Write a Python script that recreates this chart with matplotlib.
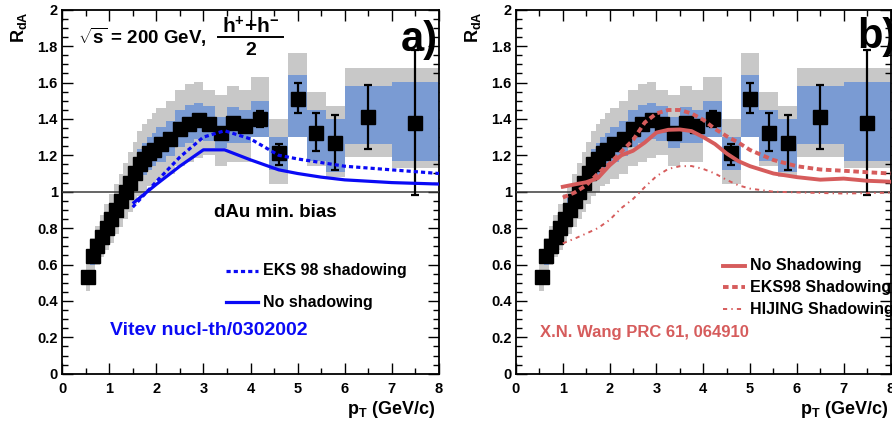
import numpy as np
import matplotlib
matplotlib.use("Agg")
import matplotlib.pyplot as plt
from matplotlib.patches import Rectangle
from matplotlib.ticker import FuncFormatter

plt.rcParams["font.family"] = ["Liberation Sans", "DejaVu Sans"]
plt.rcParams["font.weight"] = "bold"
plt.rcParams["mathtext.fontset"] = "custom"
plt.rcParams["mathtext.rm"] = "Liberation Sans:bold"
plt.rcParams["mathtext.it"] = "Liberation Sans:bold"
plt.rcParams["mathtext.bf"] = "Liberation Sans:bold"
plt.rcParams["mathtext.sf"] = "Liberation Sans:bold"
plt.rcParams["lines.scale_dashes"] = False

# ---- measured R_dA, d+Au minimum bias, (h+ + h-)/2 ----
pt = [0.55, 0.65, 0.75, 0.85, 0.95, 1.05, 1.15, 1.25, 1.35, 1.45,
      1.55, 1.65, 1.75, 1.85, 1.95, 2.1, 2.3, 2.5, 2.7, 2.9,
      3.125, 3.375, 3.625, 3.875, 4.2, 4.6, 5.0, 5.4, 5.8, 6.5, 7.5]
bin_lo = [0.5, 0.6, 0.7, 0.8, 0.9, 1.0, 1.1, 1.2, 1.3, 1.4,
          1.5, 1.6, 1.7, 1.8, 1.9, 2.0, 2.2, 2.4, 2.6, 2.8,
          3.0, 3.25, 3.5, 3.75, 4.0, 4.4, 4.8, 5.2, 5.6, 6.0, 7.0]
bin_hi = [0.6, 0.7, 0.8, 0.9, 1.0, 1.1, 1.2, 1.3, 1.4, 1.5,
          1.6, 1.7, 1.8, 1.9, 2.0, 2.2, 2.4, 2.6, 2.8, 3.0,
          3.25, 3.5, 3.75, 4.0, 4.4, 4.8, 5.2, 5.6, 6.0, 7.0, 8.0]
rda = [0.53, 0.645, 0.70, 0.75, 0.80, 0.85, 0.90, 0.95, 1.00, 1.05,
       1.10, 1.15, 1.18, 1.21, 1.23, 1.26, 1.29, 1.345, 1.37, 1.395,
       1.37, 1.32, 1.375, 1.36, 1.40, 1.21, 1.51, 1.325, 1.27, 1.41, 1.38]
stat_dn = [0.01, 0.01, 0.01, 0.01, 0.01, 0.01, 0.01, 0.01, 0.01, 0.01,
           0.01, 0.01, 0.01, 0.01, 0.01, 0.01, 0.01, 0.01, 0.01, 0.01,
           0.015, 0.015, 0.02, 0.02, 0.045, 0.063, 0.08, 0.10, 0.15, 0.175, 0.40]
stat_up = [0.01, 0.01, 0.01, 0.01, 0.01, 0.01, 0.01, 0.01, 0.01, 0.01,
           0.01, 0.01, 0.01, 0.01, 0.01, 0.01, 0.01, 0.01, 0.01, 0.01,
           0.015, 0.015, 0.02, 0.02, 0.045, 0.05, 0.086, 0.11, 0.15, 0.175, 0.40]
# point-to-point systematic band (blue) and total systematic band (gray)
blue_lo = [0.49, 0.60, 0.65, 0.695, 0.74, 0.785, 0.835, 0.88, 0.925, 0.97,
           1.02, 1.065, 1.09, 1.12, 1.14, 1.165, 1.195, 1.245, 1.27, 1.29,
           1.28, 1.24, 1.27, 1.265, 1.30, 1.12, 1.30, 1.17, 1.11, 1.26, 1.17]
blue_hi = [0.57, 0.69, 0.75, 0.805, 0.86, 0.915, 0.97, 1.02, 1.075, 1.13,
           1.18, 1.235, 1.27, 1.30, 1.32, 1.355, 1.39, 1.45, 1.475, 1.49,
           1.47, 1.41, 1.465, 1.45, 1.50, 1.30, 1.64, 1.45, 1.40, 1.58, 1.60]
gray_lo = [0.455, 0.55, 0.595, 0.64, 0.68, 0.72, 0.765, 0.805, 0.85, 0.89,
           0.935, 0.975, 1.00, 1.03, 1.045, 1.07, 1.10, 1.14, 1.165, 1.185,
           1.20, 1.14, 1.165, 1.165, 1.30, 1.04, 1.30, 1.14, 1.08, 1.19, 1.13]
gray_hi = [0.615, 0.745, 0.81, 0.87, 0.93, 0.985, 1.045, 1.10, 1.16, 1.22,
           1.275, 1.335, 1.37, 1.40, 1.43, 1.46, 1.50, 1.56, 1.59, 1.60,
           1.56, 1.53, 1.58, 1.56, 1.63, 1.40, 1.76, 1.55, 1.47, 1.68, 1.68]

# ---- Vitev nucl-th/0302002 ----
vit_pt = [1.5, 2.0, 2.5, 3.0, 3.45, 4.0, 4.6, 5.0, 5.5, 6.0, 7.0, 8.0]
vit_noshad = [0.935, 1.04, 1.14, 1.23, 1.23, 1.175, 1.12, 1.10, 1.08, 1.065, 1.05, 1.042]
vit_eks = [0.915, 1.055, 1.19, 1.30, 1.335, 1.29, 1.20, 1.18, 1.16, 1.14, 1.12, 1.10]

# ---- X.N. Wang PRC 61, 064910 ----
wang_pt = [1.0, 1.25, 1.5, 1.75, 2.0, 2.25, 2.5, 2.75, 3.0, 3.25, 3.5, 3.75,
           4.0, 4.25, 4.5, 4.75, 5.0, 5.5, 6.0, 6.5, 7.0, 7.5, 8.0]
wang_noshad = [1.027, 1.04, 1.052, 1.075, 1.145, 1.20, 1.225, 1.27, 1.325, 1.34, 1.342, 1.333,
               1.30, 1.262, 1.21, 1.168, 1.14, 1.10, 1.08, 1.066, 1.072, 1.06, 1.055]
wang_eks = [0.968, 0.995, 1.035, 1.10, 1.155, 1.22, 1.284, 1.38, 1.43, 1.449, 1.449, 1.43,
            1.395, 1.345, 1.305, 1.27, 1.229, 1.174, 1.14, 1.122, 1.115, 1.107, 1.10]
wang_hijing = [0.716, 0.742, 0.77, 0.80, 0.845, 0.91, 0.96, 1.025, 1.085, 1.125, 1.14, 1.141,
               1.125, 1.10, 1.065, 1.035, 1.017, 1.0, 0.996, 0.993, 0.99, 0.992, 0.995]

GRAY = "#c8c8c8"
BLUEBOX = "#7a9bd3"
BLUE = "#0a0af5"
RED = "#d65c5c"

W, H = 892, 421
fig = plt.figure(figsize=(W / 100, H / 100), dpi=100)


def axes_px(x0, x1, y0, y1):
    return fig.add_axes([x0 / W, 1 - y1 / H, (x1 - x0) / W, (y1 - y0) / H])


axL = axes_px(62, 439, 9.7, 373.7)
axR = axes_px(516, 890.5, 9.7, 373.7)

fmt = FuncFormatter(lambda v, p: "%g" % round(v, 2))

for ax in (axL, axR):
    ax.set_xlim(0, 8)
    ax.set_ylim(0, 2)
    ax.set_xticks(np.arange(0, 9, 1))
    ax.set_xticks(np.arange(0, 8.01, 0.5), minor=True)
    ax.set_yticks(np.arange(0, 2.01, 0.2))
    ax.set_yticks(np.arange(0, 2.001, 0.05), minor=True)
    ax.xaxis.set_major_formatter(fmt)
    ax.yaxis.set_major_formatter(fmt)
    ax.tick_params(which="both", direction="in", top=True, right=True,
                   labelsize=10.5, width=1.0, color="k")
    ax.tick_params(which="major", length=8)
    ax.tick_params(which="minor", length=4)
    ax.tick_params(axis="y", pad=3)
    ax.tick_params(axis="x", pad=6)
    for s in ax.spines.values():
        s.set_linewidth(1.3)

    for i in range(len(pt)):
        ax.add_patch(Rectangle((bin_lo[i], gray_lo[i]), bin_hi[i] - bin_lo[i],
                               gray_hi[i] - gray_lo[i], fc=GRAY, ec="none", zorder=1))
    for i in range(len(pt)):
        ax.add_patch(Rectangle((bin_lo[i], blue_lo[i]), bin_hi[i] - bin_lo[i],
                               blue_hi[i] - blue_lo[i], fc=BLUEBOX, ec="none", zorder=2))
    ax.axhline(1.0, color="#3c3c3c", lw=1.1, zorder=3)
    ax.errorbar(pt, rda, yerr=[stat_dn, stat_up], fmt="s", ms=9.5, mfc="k", mec="k",
                ecolor="k", elinewidth=1.6, capsize=3, capthick=1.6, zorder=5)

# ---- panel a) ----
axL.plot(vit_pt, vit_noshad, color=BLUE, lw=2.3, zorder=6, solid_capstyle="butt")
axL.plot(vit_pt, vit_eks, color=BLUE, lw=2.3, ls=(0, (3.0, 2.2)), zorder=6)

axL.text(0.34, 1.846, r"$\sqrt{\mathrm{s}}$ = 200 GeV,", fontsize=13.5, va="center", ha="left")
axL.text(4.0, 1.905, r"$\mathrm{h}^{+}$+$\mathrm{h}^{-}$", fontsize=15, va="center", ha="center")
axL.plot([3.3, 4.7], [1.85, 1.85], color="k", lw=1.4)
axL.text(4.0, 1.775, "2", fontsize=14, va="center", ha="center")
axL.text(7.98, 1.835, "a)", fontsize=30, va="center", ha="right")
axL.text(4.52, 0.887, "dAu min. bias", fontsize=13.5, va="center", ha="center")

axL.plot([3.47, 4.15], [0.566, 0.566], color=BLUE, lw=2.3, ls=(0, (3.0, 2.2)))
axL.text(4.26, 0.566, "EKS 98 shadowing", fontsize=11.5, va="center", ha="left")
axL.plot([3.47, 4.15], [0.392, 0.392], color=BLUE, lw=2.3)
axL.text(4.26, 0.392, "No shadowing", fontsize=11.5, va="center", ha="left")
axL.text(1.02, 0.235, "Vitev nucl-th/0302002", fontsize=14, va="center", ha="left", color=BLUE)

# ---- panel b) ----
axR.plot(wang_pt, wang_noshad, color=RED, lw=2.8, zorder=6)
axR.plot(wang_pt, wang_eks, color=RED, lw=2.8, ls=(0, (4.0, 2.6)), zorder=6)
axR.plot(wang_pt, wang_hijing, color=RED, lw=1.4, ls=(0, (3.0, 3.0, 1.0, 3.0)), zorder=6)

axR.text(7.29, 1.85, "b)", fontsize=30, va="center", ha="left")
axR.plot([4.43, 4.9], [0.593, 0.593], color=RED, lw=2.8)
axR.text(4.99, 0.593, "No Shadowing", fontsize=11.5, va="center", ha="left")
axR.plot([4.43, 4.9], [0.475, 0.475], color=RED, lw=2.8, ls=(0, (4.0, 2.6)))
axR.text(4.99, 0.475, "EKS98 Shadowing", fontsize=11.5, va="center", ha="left")
axR.plot([4.43, 4.9], [0.355, 0.355], color=RED, lw=1.4, ls=(0, (3.0, 3.0, 1.0, 3.0)))
axR.text(4.99, 0.355, "HIJING Shadowing", fontsize=11.5, va="center", ha="left")
axR.text(0.51, 0.225, "X.N. Wang PRC 61, 064910", fontsize=12, va="center", ha="left", color=RED)

# ---- axis titles ----
for xc in (19, 473):
    fig.text(xc / W, 1 - 27 / H, r"$\mathrm{R}_{\mathrm{dA}}$", rotation=90,
             fontsize=13, ha="center", va="center")
for xr in (435, 888):
    fig.text(xr / W, 1 - 410 / H, r"$\mathrm{p}_{\mathrm{T}}$ (GeV/c)",
             fontsize=13, ha="right", va="center")

fig.savefig("out.png", dpi=100)
